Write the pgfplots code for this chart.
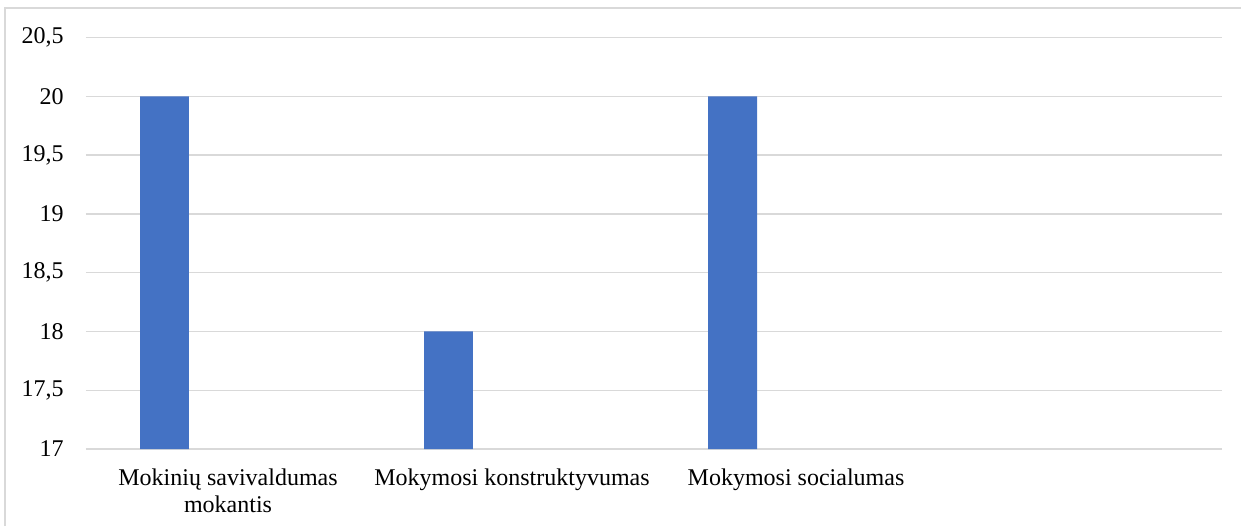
\documentclass[border=0pt]{standalone}
\usepackage{fontspec}
\setmainfont{Liberation Serif}[Ligatures=TeX]
\newfontfamily\timesfont{Liberation Serif}
\usepackage{pgfplots}
\pgfplotsset{compat=1.18}
\definecolor{barblue}{HTML}{4472C4}
\definecolor{gridgray}{HTML}{D9D9D9}
\begin{document}
\begin{tikzpicture}
\useasboundingbox (-43pt,-38.5pt) rectangle (577.5pt,224.5pt);
\begin{axis}[
  at={(0,0)}, anchor=south west,
  scale only axis, width=568pt, height=205.65pt,
  xmin=-0.5, xmax=3.5, ymin=17, ymax=20.5,
  ytick={17,17.5,18,18.5,19,19.5,20,20.5},
  xtick={0,1,2,3},
  xticklabels={{Mokinių savivaldumas\\mokantis},{Mokymosi konstruktyvumas},{Mokymosi socialumas},{}},
  axis line style={draw=none},
  major tick length=0pt,
  ymajorgrids, major grid style={gridgray, line width=0.75pt},
  ybar, bar width=0.1725,
  /pgf/number format/use comma,
  /pgf/number format/assume math mode=true,
  ticklabel style={font=\timesfont\fontsize{12}{13.6}\selectfont, inner sep=0pt},
  xticklabel style={align=center, anchor=north, yshift=-9.5pt},
  yticklabel style={anchor=east, xshift=-11pt},
]
\addplot[fill=barblue, draw=none, bar shift=0pt] coordinates {(-0.2236,20) (0.7764,18) (1.7764,20)};
\end{axis}
\draw[gridgray, line width=0.6pt] (-40.5pt,-38.5pt) -- (-40.5pt,220.5pt) -- (577.5pt,220.5pt);
\end{tikzpicture}
\end{document}
